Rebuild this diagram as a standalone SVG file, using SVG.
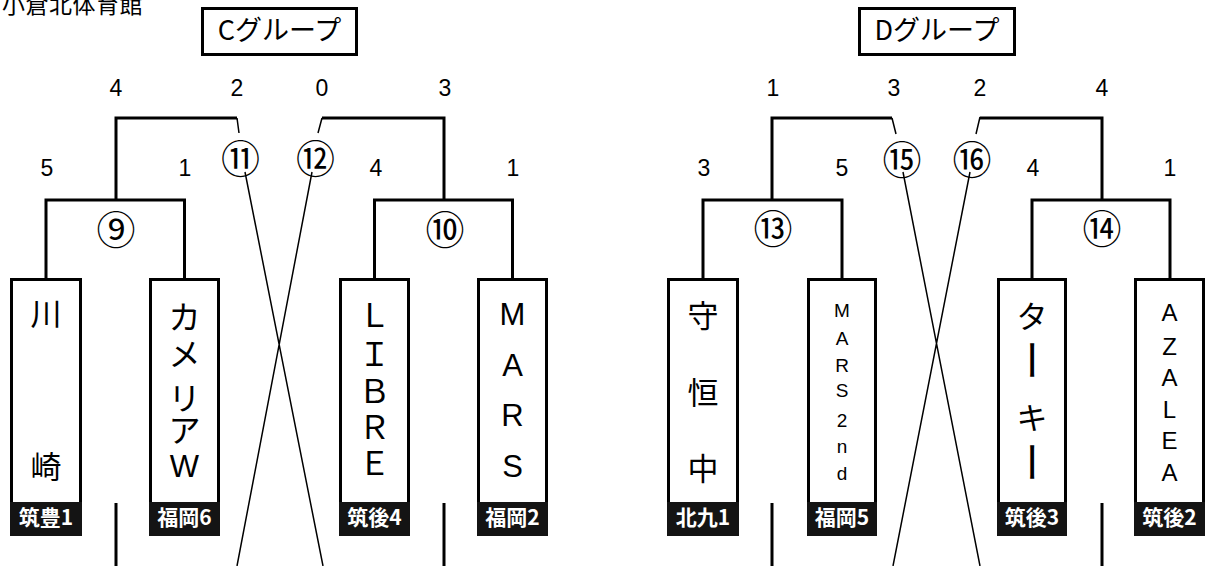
<svg xmlns="http://www.w3.org/2000/svg" width="1206" height="566" viewBox="0 0 1206 566">
<defs>
<style>
.jp{font-family:"Noto Sans CJK JP","Noto Sans CJK SC",sans-serif;fill:#000}
.lat{font-family:"Liberation Sans",Arial,sans-serif;fill:#000}
.num{font-family:"Liberation Sans",Arial,sans-serif;font-size:23px;text-anchor:middle;fill:#000}
.circ{font-family:"Noto Sans CJK JP","Noto Sans CJK SC",sans-serif;font-size:39px;text-anchor:middle;fill:#000}
.mid{text-anchor:middle}
.box{fill:#fff;stroke:#000;stroke-width:3}
.band{fill:#141414}
.lbl{font-family:"Noto Sans CJK JP","Noto Sans CJK SC",sans-serif;font-size:21px;font-weight:bold;fill:#fff;text-anchor:middle}
.thick{fill:none;stroke:#000;stroke-width:3}
.thin{fill:none;stroke:#000;stroke-width:1.5}
</style>
</defs>
<rect width="1206" height="566" fill="#fff"/>

<text class="jp" x="2" y="13" font-size="23" letter-spacing="0.5">小倉北体育館</text>

<g id="group-c-title">
<rect class="box" x="202.5" y="8.5" width="154" height="46"/>
<text class="jp mid" x="279.5" y="40" font-size="27">Cグループ</text>
</g>
<g id="group-d-title">
<rect class="box" x="859.5" y="8.5" width="155" height="46"/>
<text class="jp mid" x="937" y="40" font-size="27">Dグループ</text>
</g>

<g id="connectors">
<path class="thick" d="M46,279V200H184.5V279M116,200V118H237"/>
<path class="thick" d="M374.5,279V200H512.5V279M444,200V118H322"/>
<path class="thick" d="M703,279V200H842V279M772,200V118H892"/>
<path class="thick" d="M1032,279V200H1170V279M1102,200V118H980"/>
<path class="thick" d="M116,503V566M444,503V566M772,503V566M1102,503V566"/>
<path class="thin" d="M237,118L239,133M322,118L318,133M892,118L896,134M980,117L976,134"/>
<path class="thin" d="M245,172L323,566M312,172L237,566M903,172L980,566M970,172L893,566"/>
</g>

<g id="scores">
<text class="num" x="116" y="96">4</text>
<text class="num" x="237" y="96">2</text>
<text class="num" x="322" y="96">0</text>
<text class="num" x="445" y="96">3</text>
<text class="num" x="47" y="176">5</text>
<text class="num" x="185" y="176">1</text>
<text class="num" x="376" y="176">4</text>
<text class="num" x="513" y="176">1</text>
<text class="num" x="773" y="96">1</text>
<text class="num" x="894" y="96">3</text>
<text class="num" x="980" y="96">2</text>
<text class="num" x="1102" y="96">4</text>
<text class="num" x="704" y="176">3</text>
<text class="num" x="842" y="176">5</text>
<text class="num" x="1033" y="176">4</text>
<text class="num" x="1170" y="176">1</text>
</g>

<g id="match-9"><text class="circ" x="116" y="243.5">⑨</text></g>
<g id="match-10"><text class="circ" x="445" y="243.5">⑩</text></g>
<g id="match-11"><text class="circ" x="240.5" y="172.5">⑪</text></g>
<g id="match-12"><text class="circ" x="315.5" y="172.5">⑫</text></g>
<g id="match-13"><text class="circ" x="773" y="242.5">⑬</text></g>
<g id="match-14"><text class="circ" x="1102" y="242.5">⑭</text></g>
<g id="match-15"><text class="circ" x="902" y="174">⑮</text></g>
<g id="match-16"><text class="circ" x="972" y="174">⑯</text></g>

<g id="team-kawasaki">
<rect class="box" x="11.5" y="279.5" width="69" height="255"/>
<rect class="band" x="10" y="502" width="72" height="34"/>
<text class="jp mid" font-size="31"><tspan x="46" y="325">川</tspan><tspan x="46" y="478">崎</tspan></text>
<text class="lbl" x="46" y="525">筑豊1</text>
</g>

<g id="team-cameria">
<rect class="box" x="150.5" y="279.5" width="68" height="255"/>
<rect class="band" x="149" y="502" width="71" height="34"/>
<text class="jp mid" font-size="32"><tspan x="184.5" y="329">カ</tspan><tspan x="184.5" y="366">メ</tspan><tspan x="184.5" y="410">リ</tspan><tspan x="184.5" y="442">ア</tspan></text>
<text class="lat mid" x="184.5" y="477" font-size="31">W</text>
<text class="lbl" x="184.5" y="525">福岡6</text>
</g>

<g id="team-libre">
<rect class="box" x="340.5" y="279.5" width="68" height="255"/>
<rect class="band" x="339" y="502" width="71" height="34"/>
<text class="jp mid" font-size="32"><tspan x="374.5" y="327">Ｌ</tspan><tspan x="374.5" y="366">Ｉ</tspan><tspan x="374.5" y="403">Ｂ</tspan><tspan x="374.5" y="439">Ｒ</tspan><tspan x="374.5" y="475">Ｅ</tspan></text>
<text class="lbl" x="374.5" y="525">筑後4</text>
</g>

<g id="team-mars">
<rect class="box" x="478.5" y="279.5" width="68" height="255"/>
<rect class="band" x="477" y="502" width="71" height="34"/>
<text class="lat mid" font-size="31"><tspan x="512.5" y="325">M</tspan><tspan x="512.5" y="376">A</tspan><tspan x="512.5" y="426">R</tspan><tspan x="512.5" y="477">S</tspan></text>
<text class="lbl" x="512.5" y="525">福岡2</text>
</g>

<g id="team-moritsune">
<rect class="box" x="668.5" y="279.5" width="69" height="255"/>
<rect class="band" x="667" y="502" width="72" height="34"/>
<text class="jp mid" font-size="31"><tspan x="703" y="327">守</tspan><tspan x="703" y="404">恒</tspan><tspan x="703" y="480">中</tspan></text>
<text class="lbl" x="703" y="525">北九1</text>
</g>

<g id="team-mars2nd">
<rect class="box" x="808.5" y="279.5" width="67" height="255"/>
<rect class="band" x="807" y="502" width="70" height="34"/>
<text class="lat mid" font-size="19"><tspan x="842" y="317">M</tspan><tspan x="842" y="345">A</tspan><tspan x="842" y="372">R</tspan><tspan x="842" y="397">S</tspan><tspan x="842" y="427">2</tspan><tspan x="842" y="453">n</tspan><tspan x="842" y="480">d</tspan></text>
<text class="lbl" x="842" y="525">福岡5</text>
</g>

<g id="team-turkey">
<rect class="box" x="998.5" y="279.5" width="67" height="255"/>
<rect class="band" x="997" y="502" width="70" height="34"/>
<text class="jp mid" font-size="31" x="1032" y="328">タ</text>
<text class="jp mid" font-size="42" x="1032" y="376" transform="rotate(90 1032 360)">ー</text>
<text class="jp mid" font-size="31" x="1032" y="429">キ</text>
<text class="jp mid" font-size="42" x="1032" y="478" transform="rotate(90 1032 462)">ー</text>
<text class="lbl" x="1032" y="525">筑後3</text>
</g>

<g id="team-azalea">
<rect class="box" x="1135.5" y="279.5" width="68" height="255"/>
<rect class="band" x="1134" y="502" width="71" height="34"/>
<text class="lat mid" font-size="24"><tspan x="1169.5" y="320.5">A</tspan><tspan x="1169.5" y="354.5">Z</tspan><tspan x="1169.5" y="385.5">A</tspan><tspan x="1169.5" y="417.5">L</tspan><tspan x="1169.5" y="448.5">E</tspan><tspan x="1169.5" y="480.5">A</tspan></text>
<text class="lbl" x="1169.5" y="525">筑後2</text>
</g>
</svg>
